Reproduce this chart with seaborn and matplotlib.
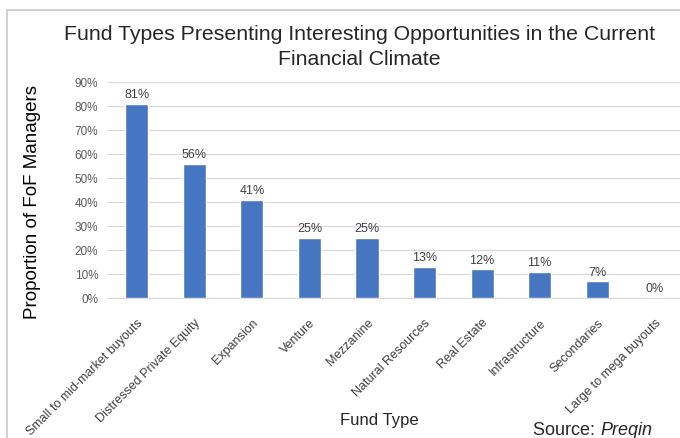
import numpy as np
import pandas as pd
import matplotlib
matplotlib.use("Agg")
import matplotlib.pyplot as plt
import seaborn as sns
from matplotlib.patches import Rectangle

# ===============================
# DATA
# ===============================
fund_types = [
    "Small to mid-market buyouts", "Distressed Private Equity", "Expansion",
    "Venture", "Mezzanine", "Natural Resources", "Real Estate",
    "Infrastructure", "Secondaries", "Large to mega buyouts",
]
proportions = [81, 56, 41, 25, 25, 13, 12, 11, 7, 0]
y_ticks = [0, 10, 20, 30, 40, 50, 60, 70, 80, 90]

df = pd.DataFrame({"Fund Type": fund_types, "Proportion": proportions})

# ===============================
# STYLE
# ===============================
sns.set_style("white")
plt.rcParams["font.family"] = ["Liberation Sans", "DejaVu Sans"]

BAR_COLOR = "#4676C2"
GRID_COLOR = "#D9D9D9"
TEXT_COLOR = "#404040"

fig = plt.figure(figsize=(6.8, 4.39), dpi=100)
ax = fig.add_axes([0.159, 0.319, 0.846, 0.492])

# outer chart border
fig.patches.append(Rectangle((7 / 680, -0.05), 1.0, 1 - 11 / 439 + 0.05,
                             transform=fig.transFigure, fill=False,
                             edgecolor="#C8C8C8", linewidth=1.2))

sns.barplot(data=df, x="Fund Type", y="Proportion", color=BAR_COLOR,
            width=0.40, saturation=1, ax=ax, zorder=3)

for i, v in enumerate(proportions):
    ax.text(i, v + 1.5, f"{v}%", ha="center", va="bottom",
            fontsize=9, color=TEXT_COLOR)

ax.set_ylim(0, 90)
ax.set_xlim(-0.5, 9.5)
ax.set_yticks(y_ticks)
ax.set_yticklabels([f"{t}%" for t in y_ticks], fontsize=8.5, color="#595959")
ax.yaxis.grid(True, color=GRID_COLOR, linewidth=0.9, zorder=0)
ax.set_axisbelow(True)
ax.tick_params(axis="y", length=0, pad=7)
ax.tick_params(axis="x", length=0, pad=13)

ax.set_xticks(range(len(fund_types)))
ax.set_xticklabels(fund_types, rotation=45, ha="right", rotation_mode="anchor",
                   fontsize=9, color=TEXT_COLOR)

for s in ["top", "right", "left"]:
    ax.spines[s].set_visible(False)
ax.spines["bottom"].set_color(GRID_COLOR)

ax.set_xlabel("")
ax.set_ylabel("Proportion of FoF Managers", fontsize=13.5, color="black")
ax.yaxis.set_label_coords(-0.117, 0.45)

fig.text(0.529, 0.943, "Fund Types Presenting Interesting Opportunities in the Current\nFinancial Climate",
         ha="center", va="top", fontsize=15.3, linespacing=1.4)
fig.text(0.558, 0.043, "Fund Type", ha="center", va="center", fontsize=12)
src = fig.text(0.784, 0.01, "Source: ", ha="left", va="baseline", fontsize=13)
ax.annotate("Preqin", xy=(1, 0), xycoords=src, ha="left", va="bottom",
            fontsize=13, style="italic", annotation_clip=False)

plt.savefig("out.png", dpi=100)
plt.close()
